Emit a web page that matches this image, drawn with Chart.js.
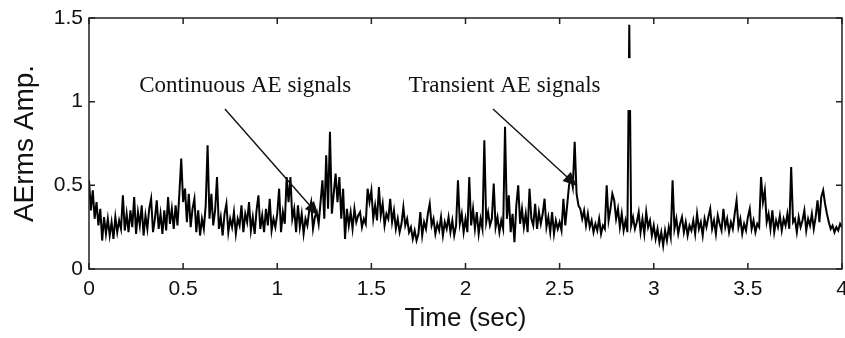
<!DOCTYPE html>
<html>
<head>
<meta charset="utf-8">
<script src="https://cdn.jsdelivr.net/npm/chart.js@4"></script>
<style>
  html, body { margin: 0; padding: 0; background: #fff; }
</style>
</head>
<body>
<canvas id="ae-chart" width="845" height="338"></canvas>
<script>
// AE rms amplitude, one value every 0.01 s
const step = 0.01
const aeRms = [
  0.53, 0.35, 0.47, 0.30, 0.40, 0.26, 0.36, 0.17, 0.31, 0.21,
  0.30, 0.20, 0.28, 0.18, 0.31, 0.22, 0.29, 0.24, 0.44, 0.23,
  0.33, 0.22, 0.35, 0.25, 0.43, 0.21, 0.34, 0.26, 0.38, 0.20,
  0.32, 0.24, 0.36, 0.42, 0.22, 0.30, 0.41, 0.24, 0.33, 0.21,
  0.35, 0.23, 0.43, 0.27, 0.36, 0.24, 0.38, 0.26, 0.45, 0.66,
  0.40, 0.48, 0.28, 0.45, 0.25, 0.36, 0.42, 0.22, 0.35, 0.20,
  0.30, 0.24, 0.38, 0.74, 0.30, 0.45, 0.26, 0.35, 0.55, 0.24,
  0.31, 0.20, 0.33, 0.39, 0.22, 0.30, 0.25, 0.34, 0.21, 0.30,
  0.26, 0.38, 0.22, 0.33, 0.28, 0.40, 0.23, 0.31, 0.21, 0.35,
  0.44, 0.24, 0.32, 0.22, 0.36, 0.26, 0.42, 0.23, 0.30, 0.25,
  0.33, 0.48, 0.22, 0.34, 0.27, 0.55, 0.40, 0.55, 0.30, 0.36,
  0.22, 0.38, 0.25, 0.33, 0.21, 0.30, 0.26, 0.35, 0.40, 0.24,
  0.31, 0.34, 0.27, 0.40, 0.53, 0.30, 0.68, 0.36, 0.82, 0.33,
  0.45, 0.57, 0.40, 0.55, 0.30, 0.48, 0.18, 0.36, 0.26, 0.34,
  0.24, 0.36, 0.28, 0.32, 0.34, 0.25, 0.30, 0.27, 0.48, 0.40,
  0.47, 0.30, 0.38, 0.29, 0.49, 0.32, 0.39, 0.26, 0.33, 0.30,
  0.42, 0.28, 0.35, 0.24, 0.30, 0.22, 0.27, 0.37, 0.26, 0.30,
  0.22, 0.25, 0.18, 0.23, 0.17, 0.21, 0.34, 0.20, 0.28, 0.24,
  0.33, 0.39, 0.26, 0.30, 0.21, 0.27, 0.23, 0.31, 0.20, 0.28,
  0.24, 0.31, 0.22, 0.29, 0.20, 0.26, 0.53, 0.27, 0.33, 0.22,
  0.30, 0.22, 0.55, 0.26, 0.36, 0.24, 0.34, 0.21, 0.30, 0.24,
  0.77, 0.28, 0.34, 0.26, 0.30, 0.51, 0.25, 0.31, 0.22, 0.29,
  0.24, 0.85, 0.30, 0.44, 0.22, 0.33, 0.16, 0.38, 0.50, 0.27,
  0.36, 0.25, 0.33, 0.22, 0.48, 0.30, 0.26, 0.39, 0.24, 0.34,
  0.27, 0.33, 0.42, 0.25, 0.31, 0.22, 0.34, 0.21, 0.29, 0.24,
  0.28, 0.23, 0.42, 0.26, 0.38, 0.50, 0.55, 0.49, 0.76, 0.45,
  0.38, 0.36, 0.30, 0.35, 0.26, 0.33, 0.25, 0.29, 0.22, 0.27,
  0.23, 0.30, 0.21, 0.26, 0.24, 0.50, 0.29, 0.36, 0.45, 0.41,
  0.30, 0.36, 0.25, 0.33, 0.23, 0.29, 0.22, 1.46, 0.26, 0.31,
  0.24, 0.28, 0.34, 0.22, 0.30, 0.21, 0.34, 0.25, 0.29, 0.20,
  0.26, 0.18, 0.24, 0.16, 0.22, 0.14, 0.23, 0.17, 0.25, 0.19,
  0.53, 0.24, 0.30, 0.21, 0.27, 0.31, 0.22, 0.28, 0.20, 0.26,
  0.23, 0.29, 0.21, 0.33, 0.24, 0.28, 0.20, 0.30, 0.25, 0.31,
  0.36, 0.24, 0.29, 0.21, 0.32, 0.27, 0.23, 0.36, 0.25, 0.30,
  0.22, 0.28, 0.24, 0.33, 0.41, 0.25, 0.30, 0.21, 0.27, 0.23,
  0.31, 0.36, 0.24, 0.29, 0.22, 0.27, 0.25, 0.55, 0.40, 0.47,
  0.28, 0.33, 0.24, 0.35, 0.22, 0.29, 0.25, 0.32, 0.23, 0.30,
  0.26, 0.33, 0.24, 0.61, 0.28, 0.30, 0.22, 0.31, 0.25, 0.29,
  0.35, 0.23, 0.30, 0.26, 0.33, 0.24, 0.31, 0.41, 0.28, 0.43,
  0.47, 0.39, 0.33, 0.28, 0.24, 0.26, 0.22, 0.25, 0.23, 0.27,
  0.25
]

const xTicks = [0, 0.5, 1, 1.5, 2, 2.5, 3, 3.5, 4]
const yTicks = [0, 0.5, 1, 1.5]

// annotation texts and arrows, in data units (time, amplitude)
const notes = [
  { text: "Continuous AE signals", x: 0.83, y: 1.058, from: [0.722, 0.956], to: [1.22, 0.32] },
  { text: "Transient AE signals", x: 2.207, y: 1.058, from: [2.146, 0.956], to: [2.592, 0.496] }
]
// white gap that cuts the big spike
const gap = { x0: 2.85, x1: 2.90, y0: 0.95, y1: 1.26 }

const points = aeRms.map((v, i) => ({ x: +(i * step).toFixed(2), y: v }))

const framePlugin = {
  id: "frame",
  afterDatasetsDraw(chart) {
    const ctx = chart.ctx
    const a = chart.chartArea
    const sx = chart.scales.x
    const sy = chart.scales.y

    // gap in the spike
    ctx.save()
    ctx.fillStyle = "#fff"
    const gx0 = sx.getPixelForValue(gap.x0), gx1 = sx.getPixelForValue(gap.x1)
    const gy0 = sy.getPixelForValue(gap.y1), gy1 = sy.getPixelForValue(gap.y0)
    ctx.fillRect(gx0, gy0, gx1 - gx0, gy1 - gy0)

    // box and inward ticks
    ctx.strokeStyle = "#222"
    ctx.lineWidth = 1.5
    ctx.strokeRect(a.left, a.top, a.right - a.left, a.bottom - a.top)
    ctx.beginPath()
    const tl = 6
    xTicks.forEach(v => {
      const px = sx.getPixelForValue(v)
      ctx.moveTo(px, a.bottom); ctx.lineTo(px, a.bottom - tl)
      ctx.moveTo(px, a.top); ctx.lineTo(px, a.top + tl)
    })
    yTicks.forEach(v => {
      const py = sy.getPixelForValue(v)
      ctx.moveTo(a.left, py); ctx.lineTo(a.left + tl, py)
      ctx.moveTo(a.right, py); ctx.lineTo(a.right - tl, py)
    })
    ctx.stroke()

    // annotations
    ctx.fillStyle = "#111"
    ctx.strokeStyle = "#111"
    ctx.lineWidth = 1.4
    ctx.font = "23px 'Liberation Serif', 'Times New Roman', serif"
    ctx.textAlign = "center"
    ctx.textBaseline = "alphabetic"
    notes.forEach(n => {
      ctx.fillText(n.text, sx.getPixelForValue(n.x), sy.getPixelForValue(n.y))
      const x0 = sx.getPixelForValue(n.from[0]), y0 = sy.getPixelForValue(n.from[1])
      const x1 = sx.getPixelForValue(n.to[0]), y1 = sy.getPixelForValue(n.to[1])
      ctx.beginPath()
      ctx.moveTo(x0, y0); ctx.lineTo(x1, y1)
      ctx.stroke()
      const ang = Math.atan2(y1 - y0, x1 - x0)
      const len = 14, half = 6
      ctx.beginPath()
      ctx.moveTo(x1, y1)
      ctx.lineTo(x1 - len * Math.cos(ang) + half * Math.sin(ang), y1 - len * Math.sin(ang) - half * Math.cos(ang))
      ctx.lineTo(x1 - len * Math.cos(ang) - half * Math.sin(ang), y1 - len * Math.sin(ang) + half * Math.cos(ang))
      ctx.closePath()
      ctx.fill()
    })
    ctx.restore()
  }
}

const tickFont = { family: "'Liberation Sans', Arial, sans-serif", size: 21 }
const titleFont = { family: "'Liberation Sans', Arial, sans-serif", size: 26 }

const contenedor = document.querySelector("#ae-chart").getContext("2d")

const aeChart = new Chart(contenedor, {
  type: "line",
  data: {
    datasets: [{
      label: "AErms",
      data: points,
      borderColor: "#000",
      borderWidth: 2,
      pointRadius: 0,
      tension: 0,
      fill: false
    }]
  },
  options: {
    responsive: false,
    devicePixelRatio: 1,
    animation: false,
    layout: { padding: { top: 18, right: 3, left: 0, bottom: 0 } },
    plugins: { legend: { display: false }, tooltip: { enabled: false } },
    scales: {
      x: {
        type: "linear",
        min: 0,
        max: 4,
        afterBuildTicks: s => { s.ticks = xTicks.map(v => ({ value: v })) },
        afterFit: s => { s.height = 69; s.paddingLeft = 0; s.paddingRight = 0 },
        grid: { display: false, drawTicks: false },
        border: { display: false },
        ticks: { font: tickFont, color: "#111", padding: 8, maxRotation: 0, autoSkip: false, callback: v => String(v) },
        title: { display: true, text: "Time (sec)", font: titleFont, color: "#111", padding: { top: 0, bottom: 4 } }
      },
      y: {
        type: "linear",
        min: 0,
        max: 1.5,
        afterBuildTicks: s => { s.ticks = yTicks.map(v => ({ value: v })) },
        afterFit: s => { s.width = 89; s.paddingTop = 0; s.paddingBottom = 0 },
        grid: { display: false, drawTicks: false },
        border: { display: false },
        ticks: { font: tickFont, color: "#111", padding: 6, callback: v => String(v) },
        title: { display: true, text: "AErms Amp.", font: { family: titleFont.family, size: 28 }, color: "#111", padding: { top: 8, bottom: 0 } }
      }
    }
  },
  plugins: [framePlugin]
})
</script>
</body>
</html>
